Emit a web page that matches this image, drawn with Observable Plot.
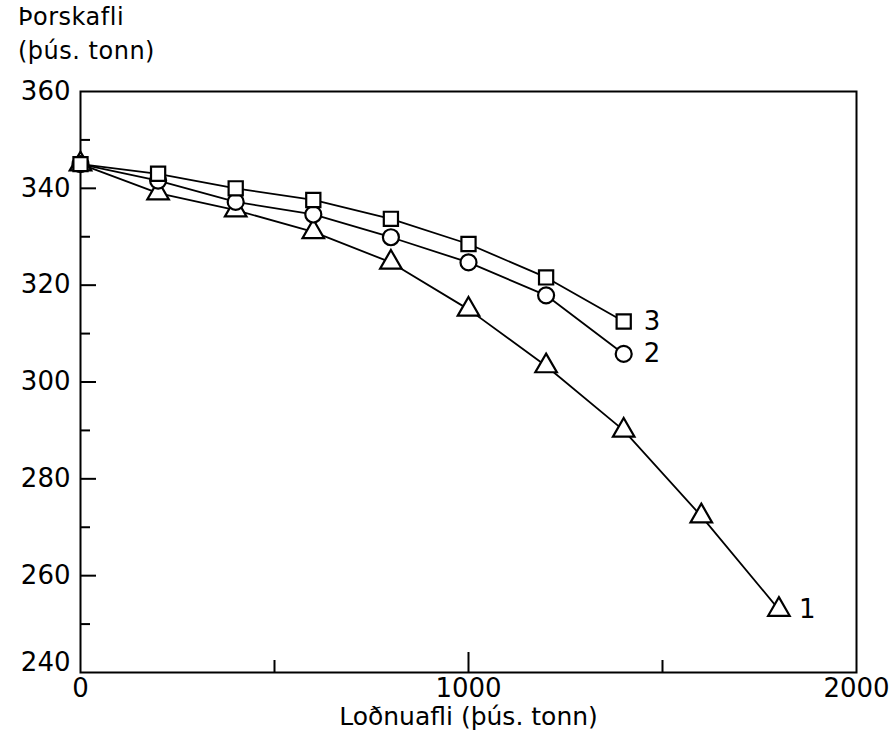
<!DOCTYPE html>
<html><head><meta charset="utf-8">
<script src="https://cdn.jsdelivr.net/npm/d3@7"></script>
<script src="https://cdn.jsdelivr.net/npm/@observablehq/plot@0.6"></script>
<style>
body{margin:0;background:#fff;}
#wrap{position:relative;width:894px;height:740px;font-family:"DejaVu Sans",sans-serif;}
#title{position:absolute;left:18px;top:0;font-size:24px;line-height:34px;color:#000;letter-spacing:0.5px;}
#chart{position:absolute;left:0;top:0;}
</style></head><body>
<div id="wrap"><div id="chart"></div><div id="title">Þorskafli<br>(þús. tonn)</div></div>
<script>
// Loðnuafli (þús. tonn) – x values
const capelin = [0, 200, 400, 600, 800, 1000, 1200, 1400, 1600, 1800];
// Þorskafli (þús. tonn) for each scenario
const series1 = [345, 339, 335.5, 331, 324.7, 315, 303.3, 290, 272.3, 253];
const series2 = [345, 341.6, 337.2, 334.6, 329.9, 324.7, 317.9, 305.8];
const series3 = [345, 343, 340, 337.6, 333.7, 328.5, 321.6, 312.5];
const seriesNames = ["1", "2", "3"];
const yMajor = [340, 320, 300, 280, 260];
const yMinor = [350, 330, 310, 290, 270, 250];
const yLabels = [360, 340, 320, 300, 280, 260];
const yBottomLabel = [240];
const xLabels = [0, 1000, 2000];
const xMinor = [500, 1500];
const xMajor = [1000];
const xTitle = "Loðnuafli (þús. tonn)";

const rows = [];
[series1, series2, series3].forEach((vals, si) => {
  vals.forEach((v, i) => rows.push({x: capelin[i], y: v, s: seriesNames[si], i}));
});
const last = [series1, series2, series3].map((vals, si) => ({x: capelin[vals.length - 1], y: vals[vals.length - 1], s: seriesNames[si]}));

const font = {fontFamily: "DejaVu Sans, sans-serif", fontSize: 26};
const fmt = d => String(d);

const chart = Plot.plot({
  width: 894,
  height: 740,
  marginLeft: 80,
  marginRight: 38,
  marginTop: 91,
  marginBottom: 68,
  style: {fontFamily: "DejaVu Sans, sans-serif", fontSize: "26px", color: "#000", background: "white"},
  x: {domain: [0, 2000], label: null},
  y: {domain: [240, 360], label: null},
  symbol: {domain: seriesNames, range: ["triangle", "circle", "square"]},
  marks: [
    Plot.axisY(yMinor, {tickSize: 10, dx: 10, tickFormat: () => "", strokeWidth: 2, label: null}),
    Plot.axisY(yMajor, {tickSize: 16, dx: 16, tickFormat: () => "", strokeWidth: 2, label: null}),
    Plot.axisY(yLabels, {tickSize: 0, tickPadding: 10, tickFormat: fmt, label: null, ...font}),
    Plot.axisY(yBottomLabel, {tickSize: 0, tickPadding: 10, dy: -10, tickFormat: fmt, label: null, ...font}),
    Plot.axisX(xMinor, {tickSize: 12, dy: -12, tickFormat: () => "", strokeWidth: 2, label: null}),
    Plot.axisX(xMajor, {tickSize: 20, dy: -20, tickFormat: () => "", strokeWidth: 2, label: null}),
    Plot.axisX(xLabels, {tickSize: 0, tickPadding: 6, tickFormat: fmt, label: null, ...font}),
    Plot.text([xTitle], {frameAnchor: "bottom", dy: 52, fontSize: 25, fontFamily: "DejaVu Sans, sans-serif"}),
    Plot.frame({stroke: "black", strokeWidth: 2}),
    Plot.line(rows, {x: "x", y: "y", z: "s", stroke: "black", strokeWidth: 1.8}),
    Plot.dot(rows, {x: "x", y: "y", symbol: "s", r: 8, stroke: "black", fill: "white", strokeWidth: 2.2}),
    Plot.text(last, {x: "x", y: "y", text: "s", dx: 20, textAnchor: "start", fontSize: 26, fontFamily: "DejaVu Sans, sans-serif"})
  ]
});
document.getElementById("chart").appendChild(chart);
</script>
</body></html>
